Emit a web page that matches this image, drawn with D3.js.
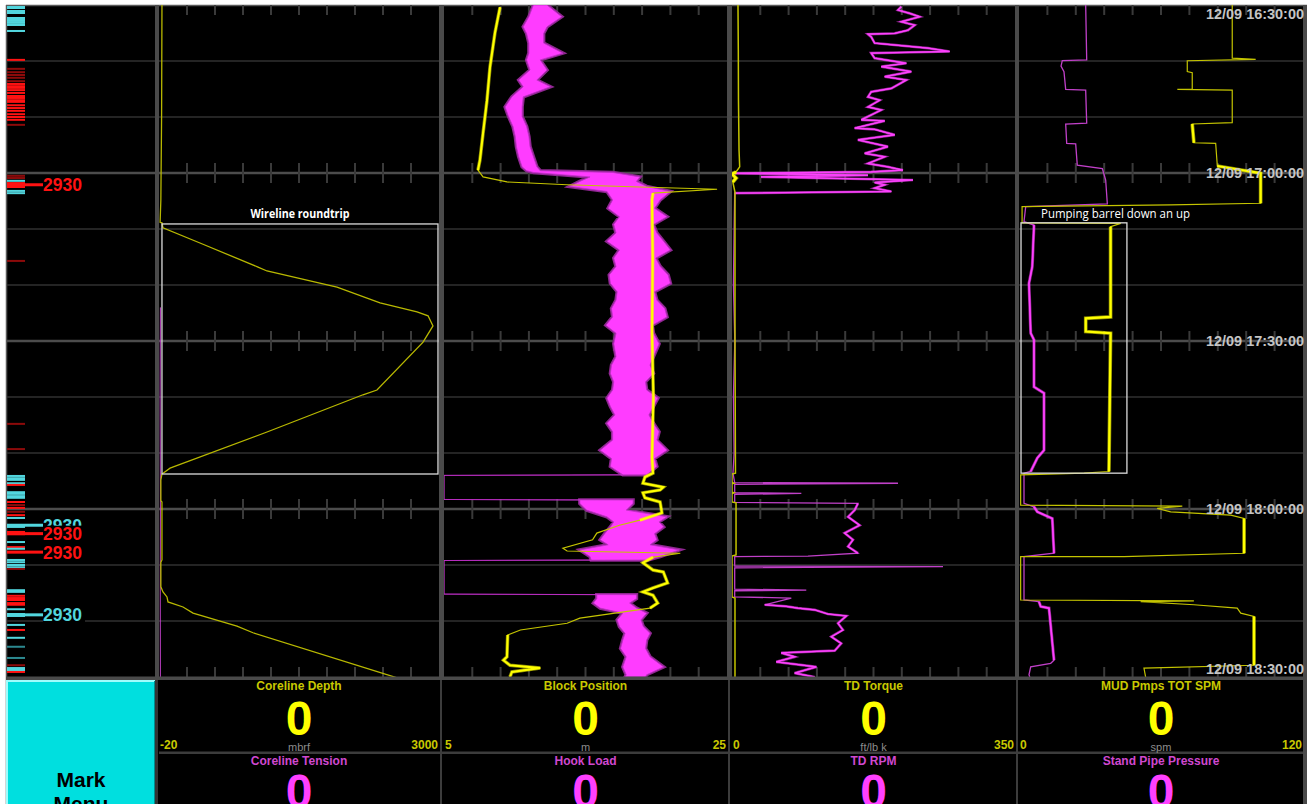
<!DOCTYPE html>
<html><head><meta charset="utf-8">
<script src="https://cdn.jsdelivr.net/npm/d3@7"></script>
<style>html,body{margin:0;padding:0;background:#fff;overflow:hidden}</style>
</head><body><svg id="c" width="1314" height="804"></svg>
<script>
// ---------- DATA (time = minutes after 12/09 16:30:00) ----------
const timeTicks = [0, 30, 60, 90, 120];
const timeLabels = ["12/09 16:30:00", "12/09 17:00:00", "12/09 17:30:00", "12/09 18:00:00", "12/09 18:30:00"];
const minorTicks = [10, 20, 40, 50, 70, 80, 100, 110];

const channels1 = ["Coreline Depth", "Block Position", "TD Torque", "MUD Pmps TOT SPM"];
const channels2 = ["Coreline Tension", "Hook Load", "TD RPM", "Stand Pipe Pressure"];
const units = ["mbrf", "m", "ft/lb k", "spm"];
const rangeMin = [-20, 5, 0, 0];
const rangeMax = [3000, 25, 350, 120];
const range2Min = [0, 0, 0, 0];
const range2Max = [2000, 250, 200, 5000];
const current1 = [0, 0, 0, 0];
const current2 = [0, 0, 0, 0];

// Coreline Depth (mbrf)
const depthT = [0,20,34.8,38.8,38.9,39.8,42.5,46.8,47.5,50.4,53.2,54.8,55.5,57.3,60.2,68.75,69.6,76.25,82.7,83.75,84.8,88.5,88.75,99.1,99.5,103.9,104.8,105.7,106.6,107.5,108.6,110.9,112.1,120.2];
const depthV = [12,8,0,-8,12,23,422,1048,1145,1900,2364,2763,2882,2935,2828,2331,2180,1145,99,12,0,0,12,12,0,0,23,66,77,239,347,821,994,2558];
// Coreline Tension
const tensionT = [54, 70, 90, 105, 120];
const tensionV = [10, 8, 10, 9, 10];

// Block Position (m)
const blockT = [0.4,5,11.1,17,22.9,27.7,29.5,30.7,31.6,32.1,32.5,32.9,33.6,34.8,45,58.6,70,80.7,83.6,84.3,85.4,86.1,86.6,87.1,88,88.75,90.7,92,92.9,94.3,95.5,97,97.5,97.9,98.6,99.6,100.9,101.25,103.2,104.1,104.8,105.4,106.8,107.7,109.5,110.4,111.6,112.5,116.4,117,117.9,118.4,119.1,120];
const blockV = [8.96,8.6,8.25,8.04,7.76,7.54,7.4,7.76,9.45,13.7,18.85,24.3,19.77,19.7,19.75,19.7,19.8,19.7,19.77,19.2,19.06,20.5,20.27,19.06,19.2,20.27,20.4,18.85,17.4,15.8,15.5,13.4,13.7,21.7,19.77,19.06,19.77,20.5,20.8,19.77,19.06,19.77,20.1,19.56,14.6,13.7,10.4,9.5,9.45,9.2,9.66,11.8,9.8,9.66];
const blockNoisy = [[0,30],[33.6,83.6],[84,92],[98.5,108],[112.5,120]];

// Hook Load envelope (min / max per time step)
const hookT = [0,2.1,3.9,5.1,6.8,8.6,9.8,11.6,13.4,14.6,16.4,18.2,19.9,21.7,23.5,25.3,27.1,28.9,29.6,29.9,30.7,31.5,32.4,33.3,34.8,36.3,37.8,39.2,40.7,42.2,43.75,45.2,46.7,48.2,49.7,51.2,52.7,54.2,55.7,57.2,58.6,60.5,62.8,64.3,65.8,67.3,68.75,70.2,71.7,73.2,74.7,76.2,77.7,79.5,81,82.4,83.9,84.0,88.3,88.4,89,90.2,91.4,92.3,93.2,94.4,95.5,96.4,97.3,98.5,99.1,99.2,105.2,105.3,106,106.8,107.7,108.6,109.8,111,112.2,113.4,114.9,116.4,118.2,119.6,120];
const hookLo = [79,75,70,73,75,75,73,76,66,70,60,54,57,61,63,64,66,69,73,79,129,120,111,144,149,145,155,150,152,144,155,150,152,146,147,153,152,148,149,143,152,150,152,148,147,150,149,144,147,151,144,149,149,138,148,147,158,0,0,120,120,126,144,150,147,142,138,145,120,129,130,0,0,135,135,132,138,158,153,155,160,158,156,161,158,161,160];
const hookHi = [91,104,91,88,88,105,85,91,82,94,70,69,69,73,75,76,79,82,85,149,173,170,179,200,191,186,197,185,188,194,200,187,191,198,200,186,188,195,197,184,185,190,185,182,185,178,179,189,185,181,185,190,188,197,186,188,179,0,0,167,167,161,197,190,194,186,188,182,208,191,180,0,0,170,170,164,170,179,174,176,182,179,178,182,194,179,178];

// TD Torque (ft/lb k)
const torqueT = [0,8,17,25.9,28.9,29.8,30.2,30.9,31.6,33.4,59.8,83.6,83.75,85.2,85.4,85.5,87,87.1,87.3,88.75,88.9,98.2,98.4,105.7,105.9,120];
const torqueV = [7.4,7.8,8,8.7,9.5,5,0,5,1,3.7,3.7,4.3,0,0,2.5,0,0,2.5,0,0,5,5,0,0,3.7,3.7];

// TD RPM
const rpmT = [0.3,0.9,1.5,2.1,3,3.6,4.5,5.05,5.2,5.7,6.8,7.7,8.3,8.6,9.5,10.4,11,11.9,12.8,13.4,14.9,15.5,16.4,17,18.2,18.75,20.5,20.7,22,22.2,23.2,24.1,25.3,26.5,27.1,28.3,28.9,29.5,29.8,30.05,30.4,30.7,31.25,31.7,32.1,32.7,33.3,33.6,40,50,60,70,80,83.6,85.3,85.4,85.6,87.1,87.2,87.4,88.8,89,90.2,91.4,92.9,94.3,95.5,96.7,97.9,98.4,98.5,100.2,100.3,100.5,104.3,104.5,104.6,105.7,105.9,107.1,107.4,107.7,108,108.75,109.1,110.4,111.6,112.8,114,115.3,115.7,116.4,117.3,118.2,119.3,120];
const rpmV = [119.6,117.3,125.6,132.6,119.6,129.1,124.4,115,96.1,98.4,100.8,138.5,153.8,98.4,100.8,123.2,105.5,126.7,107.9,123.2,112.6,98.4,96.1,104.4,96.1,105.5,91.4,107.9,86.7,100.8,115,89,110.2,93.8,107.9,96.1,110.2,120.8,98.2,1.9,96.1,20.5,127.9,100.8,107.9,100.8,112.6,1.9,1.5,1,2,1,1.5,0.7,1.9,117.3,1.9,1.9,49,1.9,1.9,89,86.7,82,90.2,79.6,85.5,82,89,53.7,1.9,1.9,149.1,1.9,1.9,52.5,1.9,1.9,41.9,23.1,38.4,46.6,58.4,67.8,80.8,74.9,78.4,70.2,77.2,72.6,34.8,44.3,31.3,59.6,44.3,58.4];

// MUD Pmps TOT SPM
const spmT = [0,9.5,9.7,9.95,11.9,12.1,15.05,15.06,15.2,21,21.25,24.6,24.7,28.75,30.05,35.4,35.7,36,38.9,39,39.6,55.7,55.95,58.3,58.6,83.3,83.6,83.9,89.3,89.5,89.9,90.5,91.1,91.7,97.9,98.5,98.52,106.25,106.4,106.55,107.1,107.7,108.6,109.2,117.9,118.4,120];
const spmV = [90.1,90.1,100,71.1,71.1,73.2,73.2,66.9,90.1,90.1,73.2,73.9,83.1,83.8,102.1,102.1,64.1,1.3,1.3,43,38.7,38.7,28.2,28.2,38.7,38,27.5,0.7,0.7,69,58.4,64.1,89.5,95.1,95.1,44.4,0.7,0.7,73.9,51.4,73.9,92.2,93.7,99.3,99.3,52.8,53.5];
const spmNoisy = [[21.25,24.6],[28.75,35.4],[39.6,83.3],[91.7,97.9],[109.2,117.9]];

// Stand Pipe Pressure
const sppT = [0,9.8,9.95,10.9,11.9,15.05,15.2,21.1,21.25,24.7,24.8,28.6,29.2,31.25,35.5,36,38.7,39.3,46.7,49.7,58.6,59.8,68.2,69.3,79.5,80.9,83.3,83.6,89,89.6,90.5,91.7,97.9,98.5,106.25,106.55,107.4,107.7,117,117.55,118.2,119.6,120];
const sppV = [1174,1192,762,740,792,822,1174,1192,822,840,998,1026,1467,1526,1555,118,88,264,234,176,206,264,264,440,440,322,206,88,88,264,322,586,616,88,88,352,382,528,616,558,206,176,190];
const sppNoisy = [[39.3,83.3],[89.6,97.9],[106.5,117]];

// Annotation boxes
const annoPanel = [0, 3];
const annoT0 = [39.1, 38.9];
const annoT1 = [83.75, 83.6];
const annoV0 = [12, 0.85];
const annoV1 = [2989, 45.6];
const annoText = ["Wireline roundtrip", "Pumping barrel down an up"];

// Depth marks strip
const markerT = [
  0.36,0.54,1.07,1.43,2.32,2.68,3.04,3.2,3.57,4.64,
  9.8,11.4,12,12.5,13,13.6,14.1,14.5,14.8,15.2,15.7,16.25,16.6,17,17.3,17.9,18.4,18.9,19.5,20,20.5,21.4,
  30.5,30.9,31.4,31.8,32.1,32.5,33.2,33.6,
  45.7,74.8,79.3,
  84.1,84.5,84.8,85.4,85.7,87,87.3,87.7,88,88.75,89.3,89.8,90.5,91.1,91.6,93.2,94.1,94.5,95.9,96.8,97.1,97.7,
  99.1,99.5,100,100.4,100.7,104.5,104.8,105.5,105.9,106.25,106.8,107.1,107.9,108.75,109.1,110.7,111.6,113,114.6,116.6,117.9,118.4,118.75,119.1];
const markerKind = [
  'c','c','c','c','c','c','c','c','c','c',
  'r','dr','dr','dr','dr','dr','r','r','r','r','r','r','r','r','r','r','r','r','r','r','r','dr',
  'dr','dr','c','r','r','r','c','c',
  'dr','dr','dr',
  'c','c','c','c','r','c','c','c','c','r','dr','r','dr','r','c','c','r','r','c','r','c','r',
  'c','c','c','c','dr','c','c','r','r','r','r','r','c','c','c','c','r','c','dc','dc','dr','c','c','r'];
const labelT = [32.1, 92.9, 94.4, 97.7, 108.9];
const labelKind = ['r', 'c', 'r', 'r', 'c'];
const labelText = ["2930", "2930", "2930", "2930", "2930"];

// ---------- DRAWING ----------
const svg = d3.select('#c');
const FONT = "'Liberation Sans', Arial, sans-serif";
const ts = d3.scaleLinear().domain([0, 120]).range([5, 677]);
const panels = [[159, 439], [444, 727], [732, 1015], [1019, 1303]];
const kindColor = {c: '#52d6de', dc: '#2c8990', r: '#ff1212', dr: '#8c0a0a'};
const YT = '#c4c400', YB = '#ffff00', MT = '#c040c8', MB = '#ff40ff';

svg.append('rect').attr('x', 6).attr('y', 5).attr('width', 1301).attr('height', 799).attr('fill', '#000');
svg.append('line').attr('x1', 6).attr('x2', 1307).attr('y1', 5.5).attr('y2', 5.5).attr('stroke', '#5a5a5a').attr('stroke-width', 1.5);
svg.append('line').attr('x1', 6.5).attr('x2', 6.5).attr('y1', 5).attr('y2', 804).attr('stroke', '#5a5a5a').attr('stroke-width', 1.5);

const defs = svg.append('defs');
panels.forEach((p, i) => {
  defs.append('clipPath').attr('id', 'clip' + i).append('rect')
    .attr('x', p[0]).attr('y', 5).attr('width', p[1] - p[0]).attr('height', 672);
});

// grid
const grid = svg.append('g');
minorTicks.forEach(t => grid.append('line').attr('x1', 7).attr('x2', 1303).attr('y1', ts(t)).attr('y2', ts(t))
  .attr('stroke', '#303030').attr('stroke-width', 1.5));
timeTicks.slice(1, -1).forEach(t => grid.append('line').attr('x1', 7).attr('x2', 1303).attr('y1', ts(t)).attr('y2', ts(t))
  .attr('stroke', '#4c4c4c').attr('stroke-width', 2.5));
panels.forEach(p => {
  const gx = d3.scaleLinear().domain([0, 10]).range(p);
  timeTicks.forEach(t => {
    const y = ts(t);
    for (let k = 1; k < 10; k++) {
      grid.append('line').attr('x1', gx(k)).attr('x2', gx(k))
        .attr('y1', Math.max(5, y - 10)).attr('y2', Math.min(677, y + 10))
        .attr('stroke', '#3a3a3a').attr('stroke-width', 2);
    }
  });
});

function xScale(i, lo, hi) { return d3.scaleLinear().domain([lo, hi]).range(panels[i]); }
function drawLine(i, x, T, V, color, w, noisy, bright, bw) {
  const g = svg.append('g').attr('clip-path', 'url(#clip' + i + ')');
  const n = Math.min(T.length, V.length);
  const pts = d3.range(n).map(k => ({t: T[k], v: V[k]}));
  const line = d3.line().x(d => x(d.v)).y(d => ts(d.t));
  g.append('path').attr('d', line(pts)).attr('fill', 'none').attr('stroke', color).attr('stroke-width', w);
  if (noisy) {
    const inN = t => noisy.some(([a, b]) => t >= a && t <= b);
    const l2 = d3.line().defined(d => inN(d.t)).x(d => x(d.v)).y(d => ts(d.t));
    g.append('path').attr('d', l2(pts)).attr('fill', 'none').attr('stroke', bright)
      .attr('stroke-width', bw + 1.5).attr('opacity', 0.55);
    g.append('path').attr('d', l2(pts)).attr('fill', 'none').attr('stroke', bright).attr('stroke-width', bw);
  }
  return g;
}

// Panel 1
drawLine(0, xScale(0, range2Min[0], range2Max[0]), tensionT, tensionV, MT, 1, null);
drawLine(0, xScale(0, rangeMin[0], rangeMax[0]), depthT, depthV, '#b8b800', 1.3, null);

// Panel 2: hook load band + block position
(function () {
  const x = xScale(1, range2Min[1], range2Max[1]);
  const g = svg.append('g').attr('clip-path', 'url(#clip1)');
  const n = Math.min(hookT.length, hookLo.length, hookHi.length);
  const pts = d3.range(n).map(k => ({t: hookT[k], lo: hookLo[k], hi: hookHi[k]}));
  const fringe = d3.area().defined(d => d.hi > 0).y(d => ts(d.t)).x0(d => x(d.lo)).x1(d => x(d.hi));
  const area = d3.area().y(d => ts(d.t)).x0(d => x(d.lo)).x1(d => x(d.hi));
  g.append('path').attr('d', fringe(pts)).attr('fill', 'none').attr('stroke', '#8e2690').attr('stroke-width', 3.5);
  g.append('path').attr('d', area(pts)).attr('fill', '#ff3cff').attr('stroke', '#c030c8').attr('stroke-width', 0.8);
})();
drawLine(1, xScale(1, rangeMin[1], rangeMax[1]), blockT, blockV, YT, 1.2, blockNoisy, YB, 2);

// Panel 3
drawLine(2, xScale(2, range2Min[2], range2Max[2]), rpmT, rpmV, MT, 1.3, [[0, 33.6], [89, 98], [106, 120]], MB, 1.2);
drawLine(2, xScale(2, rangeMin[2], rangeMax[2]), torqueT, torqueV, YT, 1.5, [[29.5, 31.7]], YB, 2.5);

// Panel 4
drawLine(3, xScale(3, range2Min[3], range2Max[3]), sppT, sppV, MT, 1.3, sppNoisy, MB, 1.6);
drawLine(3, xScale(3, rangeMin[3], rangeMax[3]), spmT, spmV, YT, 1.2, spmNoisy, YB, 2.2);

// annotations
annoPanel.forEach((pi, k) => {
  const x = xScale(pi, rangeMin[pi], rangeMax[pi]);
  const xa = x(annoV0[k]), xb = x(annoV1[k]), ya = ts(annoT0[k]), yb = ts(annoT1[k]);
  svg.append('rect').attr('x', xa).attr('y', ya).attr('width', xb - xa).attr('height', yb - ya)
    .attr('fill', 'none').attr('stroke', '#dcdcdc').attr('stroke-width', 1.3);
  const t = svg.append('text').text(annoText[k]).attr('fill', '#ffffff')
    .attr('font-family', "'Open Sans', sans-serif");
  if (k === 0) {
    t.attr('x', (xa + xb) / 2).attr('y', ya - 6).attr('text-anchor', 'middle')
      .attr('font-size', 12.5).attr('font-weight', 'bold').attr('textLength', 99).attr('lengthAdjust', 'spacingAndGlyphs');
  } else {
    t.attr('x', xa + 20).attr('y', ya - 5).attr('font-size', 12)
      .attr('textLength', 149).attr('lengthAdjust', 'spacingAndGlyphs');
  }
});

// marks strip
markerT.forEach((t, k) => {
  svg.append('rect').attr('x', 7).attr('y', ts(t) - 1).attr('width', 18).attr('height', 2)
    .attr('fill', kindColor[markerKind[k]] || '#ff1212');
});
labelT.forEach((t, k) => {
  const y = ts(t), col = kindColor[labelKind[k]];
  svg.append('rect').attr('x', 7).attr('y', y - 1.5).attr('width', 36).attr('height', 3).attr('fill', col);
  svg.append('rect').attr('x', 43).attr('y', y - 8).attr('width', 42).attr('height', 17).attr('fill', '#000');
  svg.append('text').text(labelText[k]).attr('x', 43).attr('y', y + 6.5).attr('fill', col)
    .attr('font-family', FONT).attr('font-weight', 'bold').attr('font-size', 18)
    .attr('textLength', 39).attr('lengthAdjust', 'spacingAndGlyphs');
});

// separators
const SEP = '#4a4a4a';
[[155, 159], [439, 444], [727, 732], [1015, 1019], [1303, 1307]].forEach(([a, b]) =>
  svg.append('rect').attr('x', a).attr('y', 5).attr('width', b - a).attr('height', 675).attr('fill', SEP));
svg.append('rect').attr('x', 6).attr('y', 676.5).attr('width', 1301).attr('height', 3.5).attr('fill', SEP);

// time labels
timeTicks.forEach((t, k) => {
  let y = ts(t) + 5;
  if (k === 0) y = 19;
  if (k === timeTicks.length - 1) y = 674;
  svg.append('text').text(timeLabels[k]).attr('x', 1304).attr('y', y).attr('text-anchor', 'end')
    .attr('fill', '#c4c4c4').attr('font-family', FONT).attr('font-weight', 'bold').attr('font-size', 15)
    .attr('textLength', 98).attr('lengthAdjust', 'spacingAndGlyphs');
});

// ---------- bottom readout ----------
const bx0 = 7, by0 = 681;
svg.append('rect').attr('x', bx0).attr('y', by0).attr('width', 148).attr('height', 124).attr('fill', '#00dfdf');
svg.append('path').attr('d', `M${bx0},${804} V${by0} H${bx0 + 148}`).attr('fill', 'none').attr('stroke', '#9ffcfc').attr('stroke-width', 2);
svg.append('path').attr('d', `M${bx0 + 148},${by0} V804`).attr('fill', 'none').attr('stroke', '#008c8c').attr('stroke-width', 2);
svg.append('text').text('Mark').attr('x', 81).attr('y', 787).attr('text-anchor', 'middle')
  .attr('font-family', FONT).attr('font-weight', 'bold').attr('font-size', 21).attr('fill', '#000');
svg.append('text').text('Menu').attr('x', 81).attr('y', 811).attr('text-anchor', 'middle')
  .attr('font-family', FONT).attr('font-weight', 'bold').attr('font-size', 21).attr('fill', '#000');

svg.append('rect').attr('x', 155).attr('y', 680).attr('width', 3).attr('height', 124).attr('fill', '#333');
svg.append('rect').attr('x', 159).attr('y', 751.5).attr('width', 1146).attr('height', 2.5).attr('fill', '#3c3c3c');
[441, 729, 1017].forEach(x => svg.append('rect').attr('x', x - 1).attr('y', 680).attr('width', 2).attr('height', 124).attr('fill', '#3c3c3c'));
svg.append('rect').attr('x', 1303).attr('y', 680).attr('width', 4).attr('height', 124).attr('fill', SEP);

panels.forEach((p, i) => {
  const cx = (p[0] + p[1]) / 2;
  const txt = (s, x, y, size, col, anchor, weight) => svg.append('text').text(s).attr('x', x).attr('y', y)
    .attr('text-anchor', anchor || 'middle').attr('font-family', FONT).attr('font-weight', weight || 'bold')
    .attr('font-size', size).attr('fill', col);
  txt(channels1[i], cx, 690, 12, '#c8c800');
  txt(String(current1[i]), cx, 735, 48, '#ffff00');
  txt(String(rangeMin[i]), p[0] + 1, 749, 12, '#c8c800', 'start');
  txt(String(rangeMax[i]), p[1] - 1, 749, 12, '#c8c800', 'end');
  txt(units[i], cx, 751, 11, '#8c8c8c', 'middle', 'normal');
  txt(channels2[i], cx, 765, 12, '#d048d0');
  txt(String(current2[i]), cx, 808, 48, '#ff40ff');
});
</script>
</body></html>
